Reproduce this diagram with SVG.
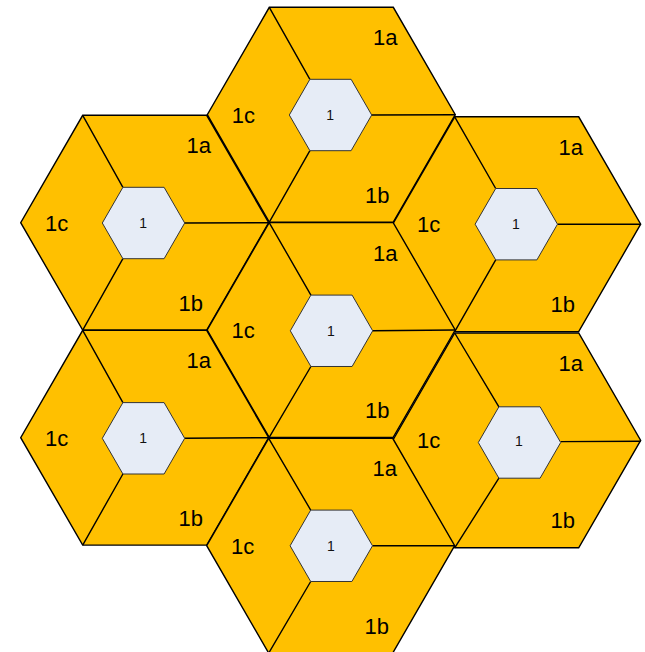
<svg xmlns="http://www.w3.org/2000/svg" xmlns:xlink="http://www.w3.org/1999/xlink" width="645" height="652" viewBox="0 0 645 652">
<style>
.big{fill:#FFC000;stroke:#000;stroke-width:1.4;stroke-linejoin:miter}
.div{fill:none;stroke:#000;stroke-width:1.4}
.small{fill:#E6ECF6;stroke:#333;stroke-width:1}
.lbl{font-family:"Liberation Sans",Arial,sans-serif;font-size:22px;fill:#000;text-anchor:middle}
.num{font-family:"Liberation Sans",Arial,sans-serif;font-size:14px;fill:#111;text-anchor:middle}
</style>
<defs>
<polygon id="bighex" class="big" points="124,0 62,107.4 -62,107.4 -124,0 -62,-107.4 62,-107.4"/>
<polygon id="smallhex" class="small" points="41.2,0 20.6,35.7 -20.6,35.7 -41.2,0 -20.6,-35.7 20.6,-35.7"/>
</defs>
<rect width="645" height="652" fill="#fff"/>
<g id="cell-top" transform="translate(331.3,114.7)">
<use xlink:href="#bighex"/>
<path class="div" d="M-21.4,-35.4 L-62,-107.4 M40.4,0.3 L124,0 M-21.4,36 L-62,107.4"/>
<use xlink:href="#smallhex" transform="translate(-0.8,0.3)"/>
<text class="lbl" x="54" y="-69.5">1a</text>
<text class="lbl" x="-88" y="8">1c</text>
<text class="lbl" x="46" y="88">1b</text>
<text class="num" x="-1.2" y="5.3">1</text>
</g>
<g id="cell-upper-left" transform="translate(144.7,222.7)">
<use xlink:href="#bighex"/>
<path class="div" d="M-21.8,-35.4 L-62,-107.4 M40,0.3 L124,0 M-21.8,36 L-62,107.4"/>
<use xlink:href="#smallhex" transform="translate(-1.2,0.3)"/>
<text class="lbl" x="54" y="-69.5">1a</text>
<text class="lbl" x="-88" y="8">1c</text>
<text class="lbl" x="46" y="88">1b</text>
<text class="num" x="-1.6" y="5.3">1</text>
</g>
<g id="cell-upper-right" transform="translate(516.7,224.2)">
<use xlink:href="#bighex"/>
<path class="div" d="M-21,-35.7 L-62,-107.4 M40.8,0 L124,0 M-21,35.7 L-62,107.4"/>
<use xlink:href="#smallhex" transform="translate(-0.4,0)"/>
<text class="lbl" x="54" y="-69.5">1a</text>
<text class="lbl" x="-88" y="8">1c</text>
<text class="lbl" x="46" y="88">1b</text>
<text class="num" x="-0.8" y="5">1</text>
</g>
<g id="cell-center" transform="translate(331.2,330)">
<use xlink:href="#bighex"/>
<path class="div" d="M-20.3,-34.9 L-62,-107.4 M41.5,0.8 L124,0 M-20.3,36.5 L-62,107.4"/>
<use xlink:href="#smallhex" transform="translate(0.3,0.8)"/>
<text class="lbl" x="54" y="-69.5">1a</text>
<text class="lbl" x="-88" y="8">1c</text>
<text class="lbl" x="46" y="88">1b</text>
<text class="num" x="-0.2" y="5.8">1</text>
</g>
<g id="cell-lower-left" transform="translate(144.7,437.7)">
<use xlink:href="#bighex"/>
<path class="div" d="M-21.8,-35.1 L-62,-107.4 M40,0.6 L124,0 M-21.8,36.3 L-62,107.4"/>
<use xlink:href="#smallhex" transform="translate(-1.2,0.6)"/>
<text class="lbl" x="54" y="-69.5">1a</text>
<text class="lbl" x="-88" y="8">1c</text>
<text class="lbl" x="46" y="88">1b</text>
<text class="num" x="-1.6" y="5.6">1</text>
</g>
<g id="cell-lower-right" transform="translate(516.7,440.4)">
<use xlink:href="#bighex"/>
<path class="div" d="M-17.8,-33.6 L-62,-107.4 M44,1.2 L124,0.8 M-17.8,37.8 L-62,107.4"/>
<use xlink:href="#smallhex" transform="translate(2.8,2.1)"/>
<text class="lbl" x="54" y="-69.5">1a</text>
<text class="lbl" x="-88" y="8">1c</text>
<text class="lbl" x="46" y="88">1b</text>
<text class="num" x="2.3" y="5.9">1</text>
</g>
<g id="cell-bottom" transform="translate(330.7,545.7)">
<use xlink:href="#bighex"/>
<path class="div" d="M-20,-35.6 L-62,-107.4 M41.8,0.1 L124,0 M-20,35.8 L-62,107.4"/>
<use xlink:href="#smallhex" transform="translate(0.6,0.1)"/>
<text class="lbl" x="54" y="-69.5">1a</text>
<text class="lbl" x="-88" y="8">1c</text>
<text class="lbl" x="46" y="88">1b</text>
<text class="num" x="0.1" y="5.1">1</text>
</g>
<g id="connectors"/>
</svg>
